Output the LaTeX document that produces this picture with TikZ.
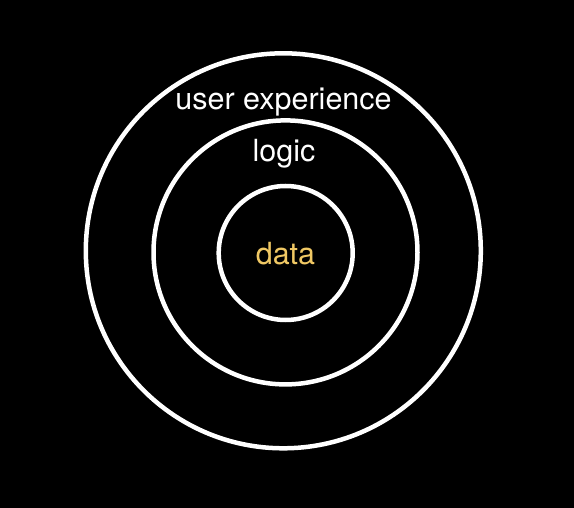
\documentclass[tikz,border=0pt]{standalone}
\usepackage{fontspec}
\setmainfont{TeX Gyre Heros}
\definecolor{datayellow}{RGB}{240,200,100}

\begin{document}
\begin{tikzpicture}[x=1pt, y=-1pt]
        \tikzstyle{ring}=[circle,draw=white,line width=4.5pt,inner sep=0pt]
        \tikzstyle{ringtext}=[text=white,anchor=base,inner sep=0pt,font=\fontsize{30.5}{36}\selectfont]
        \tikzstyle{datatext}=[ringtext,text=datayellow]

        \fill[black] (0,0) rectangle (574,508);
        \useasboundingbox (0,0) rectangle (574,508);

        \node[ring,minimum size=395pt] (R_ux) at (283.3,250.8) {};
        \node[ring,minimum size=264pt] (R_logic) at (285.5,252.4) {};
        \node[ring,minimum size=134pt] (R_data) at (285.7,253) {};

        \node[ringtext] (T_ux) at (283.5,110) {user experience};
        \node[ringtext] (T_logic) at (284,162) {logic};
        \node[datatext] (T_data) at (285.5,265) {data};
    \end{tikzpicture}
\end{document}
